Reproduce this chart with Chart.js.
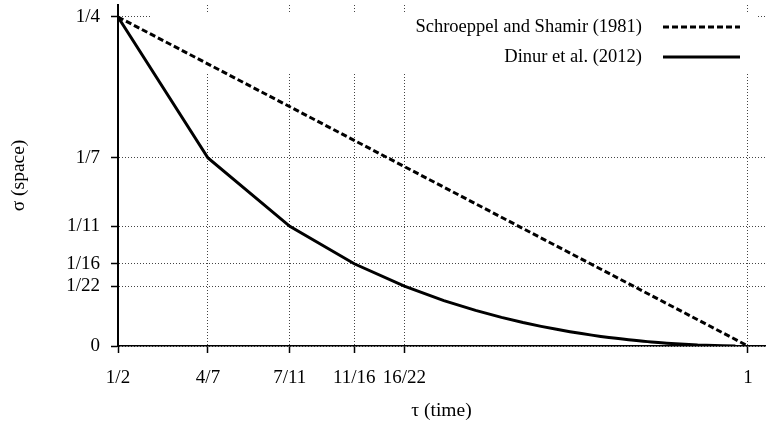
<!DOCTYPE html>
<html>
<head>
<meta charset="utf-8">
<script src="https://cdn.jsdelivr.net/npm/chart.js@4.4.0/dist/chart.umd.min.js"></script>
<style>
html, body { margin: 0; padding: 0; background: #fff; }
</style>
</head>
<body>
<canvas id="tradeoff" width="770" height="431"></canvas>
<script>
// Tick positions and their labels
var xTicks = [1/2, 4/7, 7/11, 11/16, 16/22, 1];
var xTickLabels = ['1/2', '4/7', '7/11', '11/16', '16/22', '1'];
var yTicks = [0, 1/22, 1/16, 1/11, 1/7, 1/4];
var yTickLabels = ['0', '1/22', '1/16', '1/11', '1/7', '1/4'];

// Schroeppel and Shamir (1981): straight line
var ssTau = [1/2, 1];
var ssSigma = [1/4, 0];

// Dinur et al. (2012): dissection points
var dinurTau = [1/2, 4/7, 7/11, 11/16, 16/22, 22/29, 29/37, 37/46, 46/56, 56/67, 67/79,
    79/92, 92/106, 106/121, 121/137, 137/154, 154/172, 172/191, 191/211, 211/232,
    232/254, 254/277, 277/301, 301/326, 326/352, 352/379, 379/407, 407/436, 436/466,
    1177/1226, 4852/4951, 19702/19901];
var dinurSigma = [1/4, 1/7, 1/11, 1/16, 1/22, 1/29, 1/37, 1/46, 1/56, 1/67, 1/79,
    1/92, 1/106, 1/121, 1/137, 1/154, 1/172, 1/191, 1/211, 1/232,
    1/254, 1/277, 1/301, 1/326, 1/352, 1/379, 1/407, 1/436, 1/466,
    1/1226, 1/4951, 1/19901];

var serif = '"Liberation Serif", "Times New Roman", serif';

function toPoints(xs, ys) {
    return xs.map(function (x, i) { return { x: x, y: ys[i] }; });
}

// Legend box drawn inside the plot (covers the grid, data drawn on top)
var innerLegend = {
    id: 'innerLegend',
    beforeDatasetsDraw: function (chart) {
        var a = chart.chartArea, ctx = chart.ctx;
        ctx.save();
        ctx.fillStyle = '#fff';
        ctx.fillRect(a.left + 34, a.top + 7, a.right - a.left - 42, 60);
        ctx.restore();
    },
    afterDatasetsDraw: function (chart) {
        var a = chart.chartArea, ctx = chart.ctx;
        ctx.save();
        ctx.font = '18.5px ' + serif;
        ctx.textAlign = 'right';
        ctx.textBaseline = 'middle';
        chart.data.datasets.forEach(function (ds, i) {
            var y = a.top + 22 + i * 30;
            ctx.fillStyle = '#000';
            ctx.fillText(ds.label, a.right - 123, y);
            ctx.strokeStyle = ds.borderColor;
            ctx.lineWidth = ds.borderWidth;
            ctx.setLineDash(ds.borderDash || []);
            ctx.beginPath();
            ctx.moveTo(a.right - 102, y);
            ctx.lineTo(a.right - 25, y);
            ctx.stroke();
        });
        ctx.restore();
    }
};

var gridOpts = {
    color: '#444',
    lineWidth: 1,
    tickLength: 7,
    tickColor: '#000',
    tickWidth: 1.5,
    tickBorderDash: []
};

var ctx = document.getElementById('tradeoff').getContext('2d');
var chart = new Chart(ctx, {
    type: 'line',
    data: {
        datasets: [{
            label: 'Schroeppel and Shamir (1981)',
            data: toPoints(ssTau, ssSigma),
            borderColor: '#000',
            borderWidth: 3,
            borderDash: [6, 3],
            pointRadius: 0,
            fill: false
        }, {
            label: 'Dinur et al. (2012)',
            data: toPoints(dinurTau, dinurSigma),
            borderColor: '#000',
            borderWidth: 3,
            pointRadius: 0,
            tension: 0,
            fill: false
        }]
    },
    options: {
        responsive: false,
        animation: false,
        layout: { padding: { left: 0, right: 5, top: 5, bottom: 0 } },
        plugins: { legend: { display: false }, tooltip: { enabled: false } },
        scales: {
            x: {
                type: 'linear',
                min: 0.5,
                max: 1.0135,
                afterBuildTicks: function (scale) {
                    scale.ticks = xTicks.map(function (v) { return { value: v }; });
                },
                afterFit: function (scale) {
                    scale.height = 85;
                    scale.paddingLeft = 0;
                    scale.paddingRight = 0;
                },
                ticks: {
                    autoSkip: false,
                    maxRotation: 0,
                    padding: 14,
                    color: '#000',
                    font: { family: serif, size: 19 },
                    callback: function (v, i) { return xTickLabels[i]; }
                },
                grid: gridOpts,
                border: { display: true, color: '#000', width: 1.5, dash: [1, 2] },
                title: {
                    display: true,
                    text: 'τ (time)',
                    color: '#000',
                    font: { family: serif, size: 19.5 },
                    padding: { bottom: 8 }
                }
            },
            y: {
                type: 'linear',
                min: 0,
                max: 0.2591,
                afterBuildTicks: function (scale) {
                    scale.ticks = yTicks.map(function (v) { return { value: v }; });
                },
                afterFit: function (scale) {
                    scale.width = 118;
                    scale.paddingTop = 0;
                    scale.paddingBottom = 0;
                },
                ticks: {
                    autoSkip: false,
                    padding: 11,
                    color: '#000',
                    font: { family: serif, size: 19 },
                    callback: function (v, i) { return yTickLabels[i]; }
                },
                grid: gridOpts,
                border: { display: true, color: '#000', width: 2, dash: [1, 2] },
                title: {
                    display: true,
                    text: 'σ (space)',
                    color: '#000',
                    font: { family: serif, size: 19.5 },
                    padding: { top: 7 }
                }
            }
        }
    },
    plugins: [innerLegend]
});
</script>
</body>
</html>
